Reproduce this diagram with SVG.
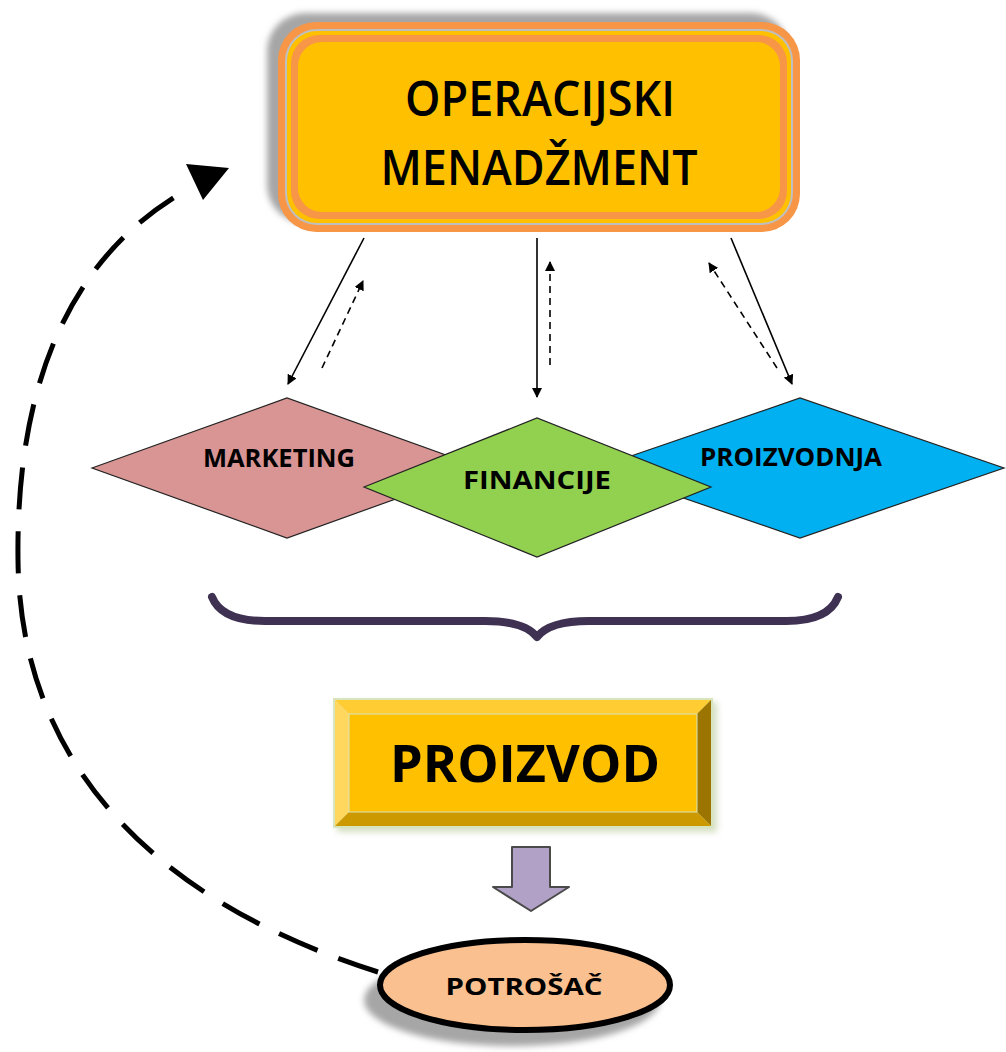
<svg xmlns="http://www.w3.org/2000/svg" width="1006" height="1052" viewBox="0 0 1006 1052">
<style>
.t{font-family:"Open Sans","Liberation Sans",sans-serif;font-weight:600;fill:#000;text-anchor:middle}
.b{font-weight:700}
.thin{stroke:#000;stroke-width:1.6;fill:none}
.dash{stroke:#000;stroke-width:1.6;fill:none;stroke-dasharray:7,5}
.dia{stroke:#222;stroke-width:1.2}
</style>
<defs>
<marker id="ah" viewBox="0 0 10 10" refX="9" refY="5" markerWidth="10" markerHeight="10" markerUnits="userSpaceOnUse" orient="auto"><path d="M0,0 L10,5 L0,10 z" fill="#000"/></marker>
<filter id="blur" x="-10%" y="-10%" width="120%" height="120%"><feGaussianBlur stdDeviation="3"/></filter>
</defs>

<g id="operacijski-menadzment">
<rect x="267" y="13" width="522" height="210" rx="38" fill="#a6a6a6" filter="url(#blur)"/>
<rect x="278" y="22" width="522" height="210" rx="38" fill="#f79646"/>
<rect x="285" y="29" width="508" height="196" rx="32" fill="#bfbfbf"/>
<rect x="287" y="31" width="504" height="192" rx="30" fill="#ffc000"/>
<rect x="291" y="35" width="496" height="184" rx="28" fill="#f79646"/>
<rect x="298" y="42" width="482" height="170" rx="24" fill="#ffc000"/>
<text class="t" x="540" y="116" font-size="48" textLength="270" lengthAdjust="spacingAndGlyphs">OPERACIJSKI</text>
<text class="t" x="539" y="185" font-size="48" textLength="317" lengthAdjust="spacingAndGlyphs">MENADŽMENT</text>
</g>

<g id="marketing">
<polygon class="dia" points="92,468 287,398 482,468 287,538" fill="#d99594"/>
<text class="t b" x="279" y="467" font-size="25" textLength="152" lengthAdjust="spacingAndGlyphs">MARKETING</text>
</g>
<g id="proizvodnja">
<polygon class="dia" points="596,468 800,398 1004,468 800,538" fill="#00b0f0"/>
<text class="t b" x="791" y="466" font-size="25" textLength="182" lengthAdjust="spacingAndGlyphs">PROIZVODNJA</text>
</g>
<g id="financije">
<polygon class="dia" points="364,487 537,418 711,487 537,557" fill="#92d050"/>
<text class="t b" x="537" y="489" font-size="25" textLength="148" lengthAdjust="spacingAndGlyphs">FINANCIJE</text>
</g>

<g id="brace">
<path d="M212,597 C218,612 235,621 265,621 L485,621 C515,621 530,628 537,637 C544,628 559,621 589,621 L786,621 C816,621 832,612 838,597" fill="none" stroke="#3f3151" stroke-width="8" stroke-linecap="round" stroke-linejoin="round"/>
</g>

<g id="proizvod">
<rect x="337" y="702" width="380" height="130" fill="#b8c99a" opacity="0.6" filter="url(#blur)"/>
<rect x="333" y="698" width="380" height="130" fill="#d7e4bd"/>
<polygon points="335,700 711,700 697,714 349,714" fill="#ffcd33"/>
<polygon points="335,700 349,714 349,812 335,826" fill="#ffd75e"/>
<polygon points="711,700 711,826 697,812 697,714" fill="#9c7500"/>
<polygon points="335,826 349,812 697,812 711,826" fill="#cc9900"/>
<rect x="349" y="714" width="348" height="98" fill="#ffc000" stroke="#d7e4bd" stroke-width="1"/>
<text class="t b" x="525" y="782" font-size="52" textLength="270" lengthAdjust="spacingAndGlyphs">PROIZVOD</text>
</g>

<g id="flow-arrow">
<path d="M512,847 L550,847 L550,887 L569,887 L531,911 L493,887 L512,887 Z" fill="#b2a1c7" stroke="#4a4a4a" stroke-width="2" stroke-linejoin="round"/>
</g>

<g id="potrosac">
<ellipse cx="512" cy="1000" rx="148" ry="46" fill="#a6a6a6" filter="url(#blur)"/>
<ellipse cx="525" cy="985" rx="145" ry="45" fill="#fac090" stroke="#000" stroke-width="6"/>
<text class="t b" x="524" y="995" font-size="24" textLength="157" lengthAdjust="spacingAndGlyphs" fill="#111">POTROŠAČ</text>
</g>

<g id="connectors">
<line class="thin" x1="364" y1="238" x2="288" y2="384" marker-end="url(#ah)"/>
<line class="dash" x1="322" y1="368" x2="363" y2="281" marker-end="url(#ah)"/>
<line class="thin" x1="537" y1="238" x2="537" y2="397" marker-end="url(#ah)"/>
<line class="dash" x1="550" y1="365" x2="550" y2="262" marker-end="url(#ah)"/>
<line class="thin" x1="731" y1="238" x2="792" y2="384" marker-end="url(#ah)"/>
<line class="dash" x1="777" y1="368" x2="709" y2="263" marker-end="url(#ah)"/>
<path d="M378,972 C150,900 20,760 18,560 C16,400 60,260 190,188" fill="none" stroke="#000" stroke-width="5" stroke-dasharray="42,22"/>
<polygon points="186,164 229,168 203,200" fill="#000"/>
</g>
</svg>
